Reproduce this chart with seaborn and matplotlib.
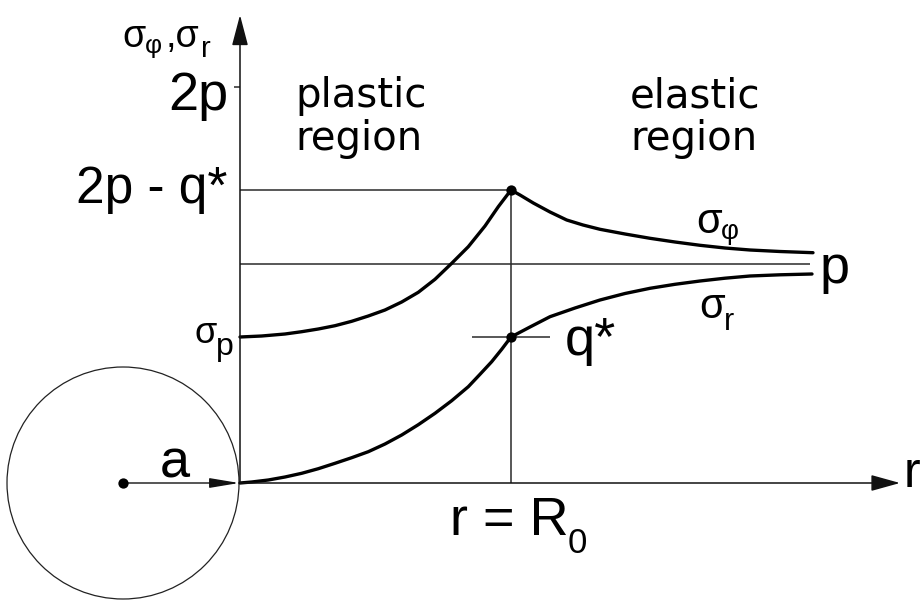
import numpy as np
import pandas as pd
import matplotlib
matplotlib.use("Agg")
import matplotlib.pyplot as plt
from matplotlib.patches import Circle
import seaborn as sns

# Stress levels on the vertical axis
p_level = 219.0
q_star = 146.0
peak_level = 293.0          # 2p - q*
two_p_tick = 396.0
sigma_p = 146.0
R0 = 271.0
r_axis_end = 660.0
s_axis_end = 468.0
p_line_end = 570.0
cavity_center = [-117.0, 0.0]
cavity_radius = 116.0

# Tangential stress sigma_phi: plastic zone (a <= r <= R0)
phi_plastic_r = [0, 21.7, 45, 61.7, 78.3, 95, 111.7, 128.3, 145, 161.7, 178.3,
                 195, 211.7, 228.3, 245, 258.3, 271]
phi_plastic_s = [146, 147, 149, 151.3, 154, 157.3, 161.7, 167, 173, 181, 190.7,
                 203.7, 219.7, 236.3, 257, 276.3, 293]
# Tangential stress sigma_phi: elastic zone (r >= R0)
phi_elastic_r = [271, 280, 293.3, 310, 326.7, 343, 360, 385, 410, 435, 460, 485,
                 510, 540, 573]
phi_elastic_s = [293, 288, 280, 271, 263, 258, 253.7, 249, 244.7, 241, 237.7,
                 235, 233, 231.5, 230.3]

# Radial stress sigma_r: plastic zone
rad_plastic_r = [0, 11.7, 28.3, 45, 61.7, 78.3, 95, 111.7, 128.3, 145, 161.7,
                 178.3, 195, 211.7, 228.3, 240, 251.7, 261.7, 271]
rad_plastic_s = [0, 1, 3, 6, 9.7, 14.3, 19.7, 25.3, 31.3, 39, 48, 58.3, 69.7,
                 82.3, 96.3, 108.7, 121.3, 133.7, 146]
# Radial stress sigma_r: elastic zone
rad_elastic_r = [271, 290, 310, 335, 360, 385, 410, 435, 460, 485, 510, 540, 572]
rad_elastic_s = [146, 156, 166.3, 175, 183, 189.5, 194.7, 198.7, 202, 204.8,
                 207, 208.2, 209]

sns.set_style("white")
plt.rcParams["font.family"] = ["Liberation Sans", "DejaVu Sans"]

fig = plt.figure(figsize=(9.22, 6.01), dpi=100)
ax = fig.add_axes([0, 0, 1, 1])

thin = dict(color="#2a2a2a", lw=1.1, solid_capstyle="butt")
ink = "#000000"

# Cavity of radius a
ax.add_patch(Circle(cavity_center, cavity_radius, fill=False, lw=0.9, ec="#222222"))

# Axes with arrow heads
ax.annotate("", xy=(0, s_axis_end), xytext=(0, 0),
            arrowprops=dict(arrowstyle="-|>,head_length=1.9,head_width=0.5",
                            mutation_scale=10, lw=1.1, color="#111111",
                            shrinkA=0, shrinkB=0))
ax.annotate("", xy=(r_axis_end, 0), xytext=(0, 0),
            arrowprops=dict(arrowstyle="-|>,head_length=1.8,head_width=0.5",
                            mutation_scale=10, lw=1.1, color="#111111",
                            shrinkA=0, shrinkB=0))
# Radius arrow a
ax.annotate("", xy=(-1, 0), xytext=(cavity_center[0], 0),
            arrowprops=dict(arrowstyle="-|>,head_length=1.8,head_width=0.3",
                            mutation_scale=10, lw=1.0, color="#111111",
                            shrinkA=0, shrinkB=0))

# Guide lines
ax.plot([-6, 0], [two_p_tick, two_p_tick], **thin)
ax.plot([0, R0], [peak_level, peak_level], **thin)
ax.plot([0, p_line_end], [p_level, p_level], **thin)
ax.plot([R0, R0], [0, peak_level], **thin)
ax.plot([R0 - 39, R0 + 39], [q_star, q_star], **thin)

# Stress curves
curves = pd.concat([
    pd.DataFrame({"r": phi_plastic_r, "s": phi_plastic_s, "part": "phi_pl"}),
    pd.DataFrame({"r": phi_elastic_r, "s": phi_elastic_s, "part": "phi_el"}),
    pd.DataFrame({"r": rad_plastic_r, "s": rad_plastic_s, "part": "r_pl"}),
    pd.DataFrame({"r": rad_elastic_r, "s": rad_elastic_s, "part": "r_el"}),
], ignore_index=True)
for part, grp in curves.groupby("part", sort=False):
    sns.lineplot(data=grp, x="r", y="s", ax=ax, sort=False, color=ink, lw=2.4,
                 estimator=None, legend=False)

# Marked points
pts = pd.DataFrame({"r": [R0, R0, cavity_center[0]],
                    "s": [peak_level, q_star, cavity_center[1]]})
sns.scatterplot(data=pts, x="r", y="s", ax=ax, color=ink, s=55, edgecolor=ink,
                linewidth=0, zorder=5, legend=False)
ax.set_xlim(-240, 682)
ax.set_ylim(-118, 483)
ax.axis("off")


def put(x, y, s, size, ha="left", family=None):
    kw = {}
    if family:
        kw["family"] = family
    ax.text(x, y, s, fontsize=size, ha=ha, va="baseline", color=ink, **kw)


big = 39
# Axis label sigma_phi, sigma_r
put(-118, 436, "σ", 27)
put(-95, 430, "φ", 19)
put(-74, 436, ",σ", 27)
put(-39, 426, "r", 21)
# Tick labels on the stress axis
put(-12, 373, "2p", big, ha="right")
put(-13, 280, "2p - q*", 37, ha="right")
put(-46, 140, "σ", 26)
put(-24, 128, "p", 23)
# Region labels
put(55, 376, "plastic", 29, family="DejaVu Sans")
put(55, 333, "region", 29, family="DejaVu Sans")
put(390, 376, "elastic", 29, family="DejaVu Sans")
put(390, 333, "region", 29, family="DejaVu Sans")
# Curve labels
put(456, 250, "σ", 30)
put(481, 244, "φ", 20)
put(459, 165, "σ", 30)
put(484, 153, "r", 22)
put(580, 200, "p", big)
put(325, 128, "q*", big)
# Radius and boundary labels
put(-80, 6, "a", big)
put(210, -52, "r = R", big)
put(328, -70, "0", 25)
put(664, -4, "r", 36)

fig.savefig("out.png", dpi=100)
